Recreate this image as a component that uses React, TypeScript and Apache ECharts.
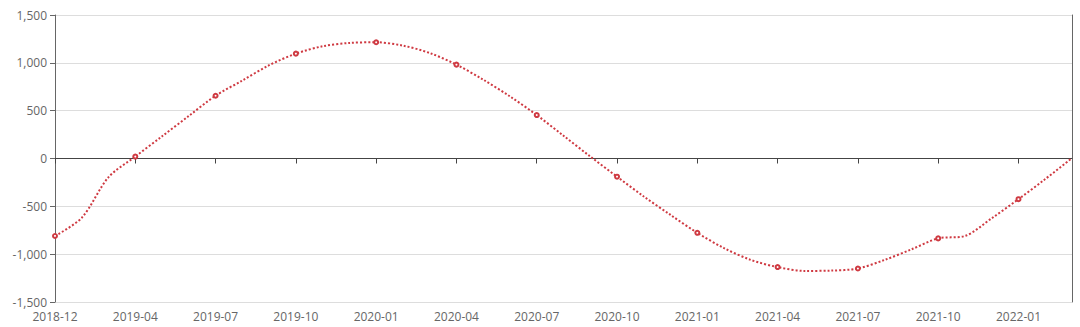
import React, { useEffect, useRef } from "react";
import * as echarts from "echarts";

const categories = [
  "2018-12", "2019-02", "2019-03", "2019-04", "2019-05", "2019-06", "2019-07",
  "2019-08", "2019-09", "2019-10", "2019-11", "2019-12", "2020-01", "2020-02",
  "2020-03", "2020-04", "2020-05", "2020-06", "2020-07", "2020-08", "2020-09",
  "2020-10", "2020-11", "2020-12", "2021-01", "2021-02", "2021-03", "2021-04",
  "2021-05", "2021-06", "2021-07", "2021-08", "2021-09", "2021-10", "2021-11",
  "2021-12", "2022-01", "2022-02", "2022-03",
];

const values = [
  -810, -620, -195, 20, 232, 445, 656,
  815, 975, 1096, 1173, 1208, 1215, 1180,
  1103, 981, 824, 649, 454, 238, 21,
  -190, -397, -590, -777, -937, -1060, -1135,
  -1175, -1172, -1150, -1060, -950, -835, -810,
  -625, -425, -215, 5,
];

const yTicks = { min: -1500, max: 1500, interval: 500 };

const FONT = "'Open Sans', sans-serif";
const RED = "#cf3a42";

export default function App() {
  const ref = useRef<HTMLDivElement>(null);
  useEffect(() => {
    document.body.style.margin = "0";
    if (!ref.current) return;
    const chart = echarts.init(ref.current, null, { renderer: "svg" });
    chart.setOption({
      animation: false,
      grid: { left: 55, right: 8, top: 15, bottom: 25, containLabel: false },
      xAxis: [
        {
          type: "category",
          data: categories,
          boundaryGap: false,
          position: "bottom",
          axisLine: { show: false, onZero: false },
          axisTick: { show: false },
          axisLabel: {
            interval: 2,
            color: "#666",
            fontSize: 12,
            fontFamily: FONT,
            margin: 8,
          },
          splitLine: { show: false },
        },
        {
          type: "category",
          data: categories,
          boundaryGap: false,
          position: "bottom",
          axisLine: { show: true, onZero: true, lineStyle: { color: "#444", width: 1 } },
          axisTick: { show: true, interval: 2, length: 5, lineStyle: { color: "#444" } },
          axisLabel: { show: false },
          splitLine: { show: false },
        },
      ],
      yAxis: [
        {
          type: "value",
          min: yTicks.min,
          max: yTicks.max,
          interval: yTicks.interval,
          axisLine: { show: true, lineStyle: { color: "#666" } },
          axisTick: { show: true, length: 5, lineStyle: { color: "#666" } },
          axisLabel: { color: "#666", fontSize: 12, fontFamily: FONT, margin: 8 },
          splitLine: { show: true, lineStyle: { color: "#ddd" } },
        },
        {
          type: "value",
          position: "right",
          min: yTicks.min,
          max: yTicks.max,
          interval: yTicks.interval,
          axisLine: { show: true, lineStyle: { color: "#666" } },
          axisTick: { show: false },
          axisLabel: { show: false },
          splitLine: { show: false },
        },
      ],
      series: [
        {
          type: "line",
          xAxisIndex: 0,
          yAxisIndex: 0,
          data: values,
          smooth: 0.3,
          showAllSymbol: false,
          symbol: "emptyCircle",
          symbolSize: 4,
          lineStyle: { color: RED, width: 2, type: "dotted" },
          itemStyle: { color: RED, borderWidth: 1 },
        },
      ],
    });
    return () => chart.dispose();
  }, []);
  return <div ref={ref} style={{ width: 1080, height: 327 }} />;
}
